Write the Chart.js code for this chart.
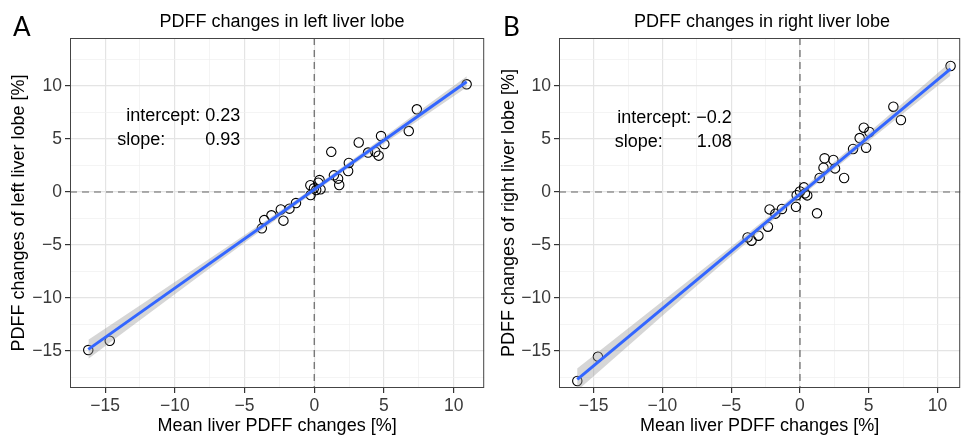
<!DOCTYPE html>
<html>
<head>
<meta charset="utf-8">
<script src="https://cdn.jsdelivr.net/npm/chart.js@4.4.0/dist/chart.umd.min.js"></script>
<style>
  body { margin: 0; background: #fff; }
  #wrap { position: relative; width: 966px; height: 437px; overflow: hidden; }
  canvas { position: absolute; top: 0; }
</style>
</head>
<body>
<div id="wrap">
  <canvas id="left" width="490" height="437" style="left:0"></canvas>
  <canvas id="right" width="476" height="437" style="left:490px"></canvas>
</div>
<script>
// values
var leftX = [-16.21,-14.67,-3.76,-3.59,-3.07,-2.40,-2.21,-1.78,-1.31,-0.28,
  -0.26,-0.02,0.14,0.29,0.38,0.45,1.22,1.41,1.71,1.79,
  2.43,2.48,3.19,3.86,4.38,4.62,4.79,5.03,6.78,7.36,10.93];
var leftY = [-14.91,-14.03,-3.43,-2.65,-2.20,-1.65,-2.70,-1.57,-1.04,0.64,
  -0.28,0.35,0.19,0.88,1.13,0.25,3.79,1.57,1.26,0.66,
  1.98,2.74,4.67,3.72,3.80,3.43,5.28,4.52,5.75,7.80,10.16];

var rightX = [-16.19,-14.69,-3.81,-3.52,-3.02,-2.33,-2.21,-1.79,-1.31,-0.29,
  -0.24,0.00,0.29,0.36,0.53,1.24,1.43,1.71,1.79,2.43,
  2.55,3.21,3.86,4.34,4.64,4.81,5.05,6.79,7.34,10.95];
var rightY = [-17.83,-15.53,-4.28,-4.59,-4.12,-3.27,-1.64,-2.04,-1.60,-1.40,
  -0.30,0.05,0.44,-0.13,-0.32,-2.01,1.32,2.30,3.18,3.02,
  2.23,1.32,4.06,5.09,6.07,4.18,5.66,8.05,6.79,11.89];

var leftFit = { intercept: 0.23, slope: 0.93 };
var rightFit = { intercept: -0.2, slope: 1.08 };

// confidence band half widths (read from the grey ribbon)
var bandX = [-16.2, -12, -8, -4, 0, 4, 8, 10.94];
var leftBandHalf = [0.9, 0.68, 0.48, 0.32, 0.25, 0.3, 0.42, 0.52];
var rightBandHalf = [1.05, 0.8, 0.58, 0.4, 0.32, 0.38, 0.52, 0.65];

var xTicks = [-15, -10, -5, 0, 5, 10];
var yTicks = [-15, -10, -5, 0, 5, 10];

var FONT = "'Liberation Sans', Arial, Helvetica, sans-serif";

function isMajor(v) { return Math.abs(v % 5) < 1e-6; }
function fmt(v) { return String(v).replace('-', '\u2212'); }
function withMinor(ticks, lo, hi) {
  var out = [];
  for (var v = ticks[0] - 5; v <= ticks[ticks.length - 1] + 5; v += 2.5) {
    if (v > lo && v < hi) out.push({ value: v });
  }
  return out;
}

function gridOpts() {
  return {
    color: function (c) { return c.tick && isMajor(c.tick.value) ? '#e4e4e4' : '#efefef'; },
    lineWidth: function (c) { return c.tick && isMajor(c.tick.value) ? 1.2 : 0.7; },
    tickColor: function (c) { return c.tick && isMajor(c.tick.value) ? '#333333' : 'rgba(0,0,0,0)'; },
    tickLength: 5
  };
}

var panelPlugin = {
  id: 'panel',
  beforeDatasetsDraw: function (chart) {
    var ctx = chart.ctx, a = chart.chartArea;
    var x0 = chart.scales.x.getPixelForValue(0);
    var y0 = chart.scales.y.getPixelForValue(0);
    ctx.save();
    ctx.strokeStyle = '#666666';
    ctx.lineWidth = 1.2;
    ctx.setLineDash([7, 5]);
    ctx.beginPath();
    ctx.moveTo(x0, a.top); ctx.lineTo(x0, a.bottom);
    ctx.moveTo(a.left, y0); ctx.lineTo(a.right, y0);
    ctx.stroke();
    ctx.restore();
  },
  afterDraw: function (chart) {
    var o = chart.options.plugins.panel;
    var ctx = chart.ctx, a = chart.chartArea;
    var sx = chart.scales.x, sy = chart.scales.y;
    ctx.save();
    ctx.strokeStyle = '#444444';
    ctx.lineWidth = 1;
    ctx.strokeRect(a.left + 0.5, a.top + 0.5, a.right - a.left - 1, a.bottom - a.top - 1);

    ctx.fillStyle = '#000';
    ctx.textBaseline = 'middle';
    ctx.font = '18px ' + FONT;
    ctx.textAlign = 'center';
    ctx.fillText(o.title, o.titleX, 22);

    ctx.font = '26px Lato, ' + FONT;
    ctx.textAlign = 'left';
    ctx.fillText(o.letter, o.letterX, 28);

    ctx.font = '18px ' + FONT;
    var rx = sx.getPixelForValue(o.textX);
    ctx.textAlign = 'right';
    ctx.fillText('intercept: ' + fmt(o.fit.intercept), rx, sy.getPixelForValue(o.textY1));
    ctx.fillText(o.fit.slope.toFixed(2), rx, sy.getPixelForValue(o.textY2));
    ctx.textAlign = 'left';
    ctx.fillText('slope:', rx - o.slopeW, sy.getPixelForValue(o.textY2));
    ctx.restore();
  }
};

function makePanel(id, xs, ys, fit, half, p) {
  var pts = xs.map(function (x, i) { return { x: x, y: ys[i] }; });
  var xmin = Math.min.apply(null, xs), xmax = Math.max.apply(null, xs);
  var pred = function (x) { return fit.intercept + fit.slope * x; };
  var upper = bandX.map(function (x, i) { return { x: x, y: pred(x) + half[i] }; });
  var lower = bandX.map(function (x, i) { return { x: x, y: pred(x) - half[i] }; });

  return new Chart(document.getElementById(id), {
    type: 'scatter',
    data: {
      datasets: [
        { data: pts, pointRadius: 4.7, pointBorderWidth: 1.1, borderColor: '#000',
          backgroundColor: 'rgba(0,0,0,0)', order: 3 },
        { type: 'line', data: upper, borderWidth: 0, pointRadius: 0, fill: '+1',
          backgroundColor: 'rgba(153,153,153,0.4)', cubicInterpolationMode: 'monotone', order: 2 },
        { type: 'line', data: lower, borderWidth: 0, pointRadius: 0, fill: false,
          cubicInterpolationMode: 'monotone', order: 2 },
        { type: 'line', data: [{ x: xmin, y: pred(xmin) }, { x: xmax, y: pred(xmax) }],
          borderColor: '#3366FF', borderWidth: 3, pointRadius: 0, fill: false, order: 1 }
      ]
    },
    options: {
      responsive: false,
      animation: false,
      devicePixelRatio: 1,
      layout: { padding: { top: 38, right: p.padRight, left: 0, bottom: 0 } },
      plugins: {
        legend: { display: false },
        tooltip: { enabled: false },
        panel: p
      },
      scales: {
        x: {
          type: 'linear', min: p.xMin, max: p.xMax,
          afterBuildTicks: function (s) { s.ticks = withMinor(xTicks, p.xMin, p.xMax); },
          afterFit: function (s) { s.height = 49; },
          border: { display: false },
          grid: gridOpts(),
          ticks: { autoSkip: false, maxRotation: 0, padding: 3, color: '#3a3a3a',
            font: { size: 17.5, family: FONT },
            callback: function (v) { return isMajor(v) ? fmt(v) : ''; } },
          title: { display: true, text: 'Mean liver PDFF changes [%]', color: '#000',
            font: { size: 18, family: FONT }, padding: { top: 0, bottom: 0 } }
        },
        y: {
          type: 'linear', min: -18.49, max: 14.53,
          afterBuildTicks: function (s) { s.ticks = withMinor(yTicks, -18.49, 14.53); },
          afterFit: function (s) { s.width = p.yWidth; },
          border: { display: false },
          grid: gridOpts(),
          ticks: { autoSkip: false, padding: 3, color: '#3a3a3a',
            font: { size: 17.5, family: FONT },
            callback: function (v) { return isMajor(v) ? fmt(v) : ''; } },
          title: { display: true, text: p.yTitle, color: '#000',
            font: { size: 18, family: FONT }, padding: { top: 8, bottom: 0 } }
        }
      }
    },
    plugins: [panelPlugin]
  });
}

makePanel('left', leftX, leftY, leftFit, leftBandHalf, {
  title: 'PDFF changes in left liver lobe', titleX: 282, letter: 'A', letterX: 13,
  fit: leftFit, textX: -5.31, textY1: 7.17, textY2: 4.9, slopeW: 123,
  xMin: -17.52, xMax: 12.19, yWidth: 70, padRight: 4,
  yTitle: 'PDFF changes of left liver lobe [%]'
});

makePanel('right', rightX, rightY, rightFit, rightBandHalf, {
  title: 'PDFF changes in right liver lobe', titleX: 272, letter: 'B', letterX: 13,
  fit: rightFit, textX: -4.96, textY1: 6.98, textY2: 4.72, slopeW: 117,
  xMin: -17.52, xMax: 11.65, yWidth: 69, padRight: 0,
  yTitle: 'PDFF changes of right liver lobe [%]'
});
</script>
</body>
</html>
